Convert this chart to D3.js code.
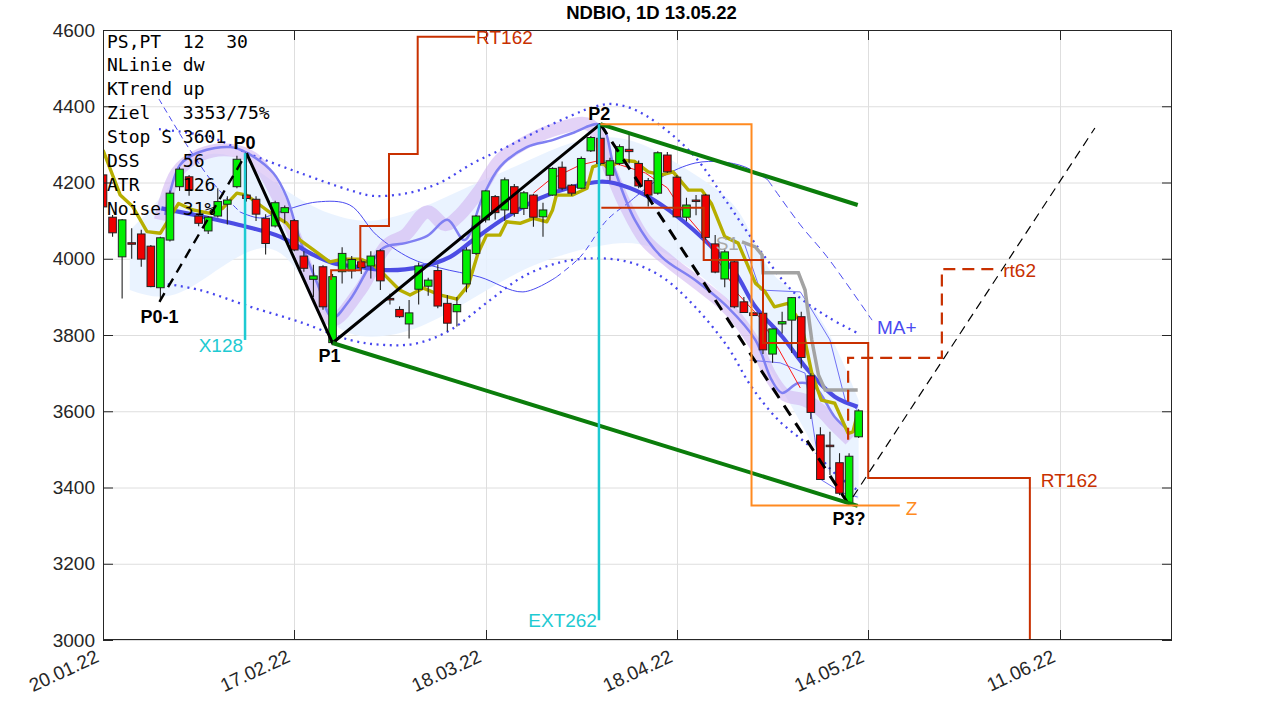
<!DOCTYPE html>
<html><head><meta charset="utf-8">
<script src="https://cdn.jsdelivr.net/npm/d3@7"></script>
<style>body{margin:0;background:#fff}svg{display:block}</style>
</head><body><svg id="c" width="1276" height="709"></svg>
<script>
// ---------- DATA ----------
const title = "NDBIO, 1D 13.05.22";
const open  = [4220,4109,4005,4042,4065,4033,3924,4049,4189,4215,4112,4073,4112,4143,4189,4167,4156,4106,4086,4121,
               4100,4007,3946,3979,3780,3966,3968,3992,3981,4021,3896,3867,3829,3920,3928,3969,3883,3861,3934,4014,
               4102,4163,4128,4189,4132,4167,4110,4167,4240,4193,4185,4283,4316,4219,4250,4287,4250,4205,4172,4272,
               4214,4109,4154,4167,4039,3947,3992,3887,3858,3857,3750,3829,3839,3848,3693,3538,3511,3465,3360,3533];
const high  = [4264,4115,4104,4080,4076,4036,4058,4179,4240,4220,4116,4112,4185,4164,4270,4277,4164,4117,4152,4140,
               4104,4020,3984,3983,3960,4030,4007,3998,4020,4025,3908,3875,3892,3990,3950,3985,3905,3900,4030,4115,
               4180,4167,4213,4196,4178,4170,4147,4240,4255,4196,4268,4322,4355,4265,4300,4330,4258,4212,4282,4280,
               4220,4160,4167,4170,4062,4025,3995,3900,3860,3860,3816,3861,3900,3861,3700,3558,3546,3490,3490,3605];
const low   = [4128,4058,3896,4000,3979,3925,3887,4045,4178,4165,4085,4065,4108,4090,4185,4150,4099,4011,4082,4094,
               4020,3966,3900,3866,3776,3935,3948,3960,3948,3918,3880,3845,3791,3880,3903,3870,3810,3822,3912,4010,
               4095,4103,4100,4110,4115,4084,4058,4165,4180,4165,4183,4280,4245,4205,4246,4250,4185,4137,4168,4225,
               4108,4098,4114,4050,3962,3925,3870,3858,3850,3750,3727,3804,3753,3713,3580,3421,3433,3380,3353,3530];
const close = [4136,4068,4102,4040,3999,3927,4055,4172,4235,4180,4093,4109,4150,4154,4261,4158,4117,4040,4147,4134,
               4023,3975,3955,3874,3953,4014,3998,3977,4007,3942,3892,3848,3858,3981,3944,3876,3831,3880,4023,4112,
               4178,4121,4207,4119,4173,4109,4128,4237,4185,4172,4263,4318,4250,4257,4294,4281,4191,4167,4278,4228,
               4110,4141,4152,4056,3965,4018,3874,3859,3851,3761,3816,3835,3898,3741,3597,3421,3510,3385,3482,3601];

const xTickIdx    = [0,20,40,60,80,100];
const xTickLabels = ["20.01.22","17.02.22","18.03.22","18.04.22","14.05.22","11.06.22"];
const yTicks      = [3000,3200,3400,3600,3800,4000,4200,4400,4600];

const infoLines = ["PS,PT  12  30","NLinie dw","KTrend up","Ziel   3353/75%","Stop S 3601","DSS    56","ATR    126","Noise  31%"];

// indicator lines as [barIndex, price]
const maThick = [[6.1,4132],[10.1,4112],[15,4084],[18.5,4058],[22,4010],[24,3989],[26.9,3978],[30,3970],[33.1,3978],
  [36.3,4005],[38.7,4049],[42.2,4110],[45.7,4159],[49.1,4189],[52,4202],[53.5,4198],[56.7,4167],[60.1,4110],
  [63.6,4032],[66.1,3963],[68.2,3874],[71,3796],[73.7,3708],[76.5,3638],[78.9,3612]];
const olive = [[0,4285],[1.8,4167],[3.1,4137],[4.6,4071],[6,4067],[7.9,4145],[9.4,4128],[11.2,4119],[12.5,4132],
  [14,4172],[15,4167],[16.4,4141],[17.8,4115],[19.2,4093],[20.6,4049],[22,4023],[23.7,3992],[25.1,3999],[26.9,3999],
  [28.1,3988],[29.3,3961],[31,3918],[32.1,3905],[33.5,3923],[35.2,3905],[37,3894],[38.2,3931],[39.2,4014],[40.1,4062],
  [41.5,4062],[42.2,4097],[43.6,4093],[45,4106],[46.4,4097],[47,4128],[47.4,4167],[49.1,4167],[50.6,4185],[51.2,4241],
  [52.3,4250],[52.8,4237],[54.2,4259],[55.6,4255],[57,4228],[58.4,4220],[59.6,4228],[61.2,4180],[62.6,4180],[63.6,4145],
  [65,4058],[66.4,4041],[68.2,3936],[69.2,3914],[70.2,3874],[71.6,3883],[73,3831],[74.1,3700],[75.1,3629],[76.5,3621],
  [77.9,3542],[78.4,3546],[78.9,3595]];
const purpleBand = [[6,4102],[7.7,4225],[10.1,4272],[13.3,4285],[15.9,4259],[18.2,4167],[20.6,4023],[22.5,3892],[24,3839],
  [26.9,3918],[29.7,4036],[31.6,4062],[33.9,4123],[35.8,4089],[37.3,4115],[39.4,4180],[41.5,4259],[44.6,4311],[47.8,4343],
  [50.9,4351],[53,4233],[54.6,4141],[56.7,4049],[59.3,3991],[62.4,3931],[65.5,3866],[68.2,3774],[69.9,3687],[71.3,3643],
  [73.4,3629],[75,3603],[76.5,3564],[78.1,3525]];
const maMedium = [[6.5,4115],[8.05,4246],[10.1,4280],[13.3,4293],[15.1,4277],[17.8,4225],[19.2,4162],[20.6,4049],[22.4,3936],
  [24,3845],[25.8,3892],[29.3,4028],[31.6,4041],[33.9,4060],[36,4102],[37.8,4049],[39.7,4162],[41.5,4241],[44.3,4293],
  [47,4311],[49.1,4330],[52,4351],[53.5,4233],[55.6,4102],[58.4,4005],[61.9,3944],[65.3,3873],[68.2,3787],[69.9,3682],
  [71,3648],[72.7,3674],[74.4,3664],[76.5,3585],[77.9,3551]];
const dotUpper = [[5.85,4340],[11.2,4319],[15.1,4277],[20.6,4225],[25.8,4180],[28.2,4165],[31.8,4172],[35.2,4199],[38.7,4251],
  [42.2,4293],[45.7,4338],[49.1,4377],[50.9,4395],[53,4406],[55.4,4393],[58.2,4351],[61.9,4267],[65.3,4146],[68.9,4015],
  [72.3,3910],[75.8,3847],[78.9,3805]];
const dotLower = [[6.1,3936],[10.1,3918],[15.4,3874],[20.6,3834],[25.8,3787],[29.3,3774],[32.8,3778],[36.3,3813],[40.5,3892],
  [43.9,3953],[47.4,3988],[50.9,4001],[54.9,3992],[58.4,3953],[61.9,3874],[65.3,3769],[67.8,3664],[70.6,3577],[74.1,3503],
  [76.5,3437],[78.9,3393]];
const bandUpper = [[2.8,4075],[6,4154],[9.1,4272],[13.3,4285],[17.5,4207],[20.6,4154],[23.7,4115],[27.9,4089],[33.1,4128],
  [38.4,4193],[43.6,4246],[47.8,4298],[52,4325],[56.1,4311],[60.3,4246],[64.5,4180],[67.1,4115],[69.7,3944],[72.9,3918],
  [76,3813],[79,3629]];
const bandLower = [[2.8,3918],[6,3892],[9.1,3918],[13.3,3997],[17.5,4049],[20.6,3970],[23.7,3813],[27.9,3787],[33.1,3813],
  [38.4,3892],[43.6,3970],[47.8,4010],[52,4036],[56.1,4049],[60.3,3997],[64.5,3918],[67.1,3839],[69.7,3708],[72.9,3577],
  [76,3420],[79,3367]];
const thinLeftDashed = [[5.85,4419],[9.1,4285],[11.7,4193],[14.3,4123]];
const thinSolid = [[14.3,4123],[16.4,4107],[18.5,4123],[22.4,4149],[25.8,4141],[28.6,4062],[32.1,4002],[35.2,3976],
  [39.4,3952],[43.9,3913],[47.4,3952]];
const thinDashedA = [[47.4,3952],[49.9,4005],[52.7,4102],[54.9,4146]];
const thinSolidB  = [[54.9,4146],[58.4,4214],[61.9,4251],[64.7,4254],[67.1,4241],[69.5,4207]];
const thinDashedC = [[69.5,4207],[72.9,4089],[75.7,4005],[80.4,3839]];
const shortUpper = [[67.1,4036],[68.7,3918],[72.9,3913],[74.1,3866],[76,3787],[77.6,3629],[78.9,3603]];
const shortLower = [[67.6,3734],[70.8,3727],[73.4,3700],[74.4,3532],[75.1,3420],[77.3,3386],[78.9,3375]];
const redThin = [[45,4172],[46.7,4207],[49.9,4246],[51.6,4256],[54.1,4246],[56.7,4225],[59,4186],[60.5,4128],[62.9,4057],
  [66.3,3910],[68.7,3845],[70.5,3769],[72.9,3661]];
const grayStop = [[66.8,4044],[68.2,4031],[68.9,4010],[69,3963],[72.7,3963],[73.4,3918],[74.1,3787],[74.8,3695],[75.5,3656],[78.9,3656]];

// pattern points
const patP01 = [5.9,3887], patP0 = [15,4277], patP1 = [24,3779], patP2 = [52,4353], patP3 = [78,3354];
const greenLower = [[24,3779],[78.9,3352]];
const greenUpper = [[52,4353],[78.9,4141]];
const rtUpper = [[23.85,3944],[23.85,3970],[26.9,3970],[26.9,4086],[29.9,4086],[29.9,4275],[32.9,4275],[32.9,4582],[38.9,4582]];
const rtLower = [[52.1,4134],[62.8,4134],[62.8,3997],[69,3997],[69,3779],[80,3779],[80,3425],[96.9,3425],[96.9,3000]];
const rtDashed = [[77.9,3525],[77.9,3740],[87.7,3740],[87.7,3973],[93.8,3973]];
const orangeBox = [[52,4353],[67.8,4353],[67.8,3353],[83.3,3353]];
const cyanX128 = [[14.85,4277],[14.85,3787]];
const cyanExt  = [[51.85,4353],[51.85,3052]];
const thinFwd  = [[78.4,3375],[103.7,4343]];

// ---------- CHART ----------
const svg = d3.select("#c");
const L=103, R=1172, T=30, B=640;
const x = d3.scaleLinear().domain([0,111.76]).range([L,R]);
const y = d3.scaleLinear().domain([3000,4600]).range([B,T]);
const line = d3.line().x(d=>x(d[0])).y(d=>y(d[1]));
const smooth = d3.line().x(d=>x(d[0])).y(d=>y(d[1])).curve(d3.curveCatmullRom.alpha(0.5));
const font = "'Liberation Sans', Arial, Helvetica, sans-serif";

svg.append("defs").append("clipPath").attr("id","pa").append("rect")
  .attr("x",L).attr("y",T).attr("width",R-L).attr("height",B-T);

// grid
const grid = svg.append("g").attr("stroke","#dedede").attr("stroke-width",1);
grid.selectAll("line.h").data(yTicks).join("line").attr("x1",L).attr("x2",R)
  .attr("y1",d=>y(d)+0.5).attr("y2",d=>y(d)+0.5);
grid.selectAll("line.v").data(xTickIdx).join("line").attr("y1",T).attr("y2",B)
  .attr("x1",d=>Math.round(x(d))+0.5).attr("x2",d=>Math.round(x(d))+0.5);

const g = svg.append("g").attr("clip-path","url(#pa)");

// light blue band
const area = d3.area().x(d=>x(d[0])).y1(d=>y(d[1])).y0((d,i)=>y(bandLower[i][1])).curve(d3.curveBasis);
g.append("path").datum(bandUpper).attr("d",area).attr("fill","#e6f1ff").attr("opacity",0.85);

// purple band
g.append("path").datum(purpleBand).attr("d",smooth).attr("fill","none")
  .attr("stroke","#cdaef0").attr("stroke-width",13).attr("stroke-opacity",0.55).attr("stroke-linejoin","round");

// dotted envelopes
[dotUpper,dotLower].forEach(d=>g.append("path").datum(d).attr("d",smooth).attr("fill","none")
  .attr("stroke","#4646ee").attr("stroke-width",2.3).attr("stroke-dasharray","2 4.6"));

// thin lines
g.append("path").datum(thinLeftDashed).attr("d",smooth).attr("fill","none").attr("stroke","#4a4af0").attr("stroke-width",1).attr("stroke-dasharray","6 4");
g.append("path").datum(thinSolid).attr("d",smooth).attr("fill","none").attr("stroke","#4a4af0").attr("stroke-width",1);
g.append("path").datum(thinDashedA).attr("d",smooth).attr("fill","none").attr("stroke","#4a4af0").attr("stroke-width",1).attr("stroke-dasharray","6 4");
g.append("path").datum(thinSolidB).attr("d",smooth).attr("fill","none").attr("stroke","#4a4af0").attr("stroke-width",1);
g.append("path").datum(thinDashedC).attr("d",smooth).attr("fill","none").attr("stroke","#4a4af0").attr("stroke-width",1).attr("stroke-dasharray","8 5");
[shortUpper,shortLower].forEach(d=>g.append("path").datum(d).attr("d",line).attr("fill","none")
  .attr("stroke","#7070f5").attr("stroke-width",1));

// medium MA
g.append("path").datum(maMedium).attr("d",smooth).attr("fill","none").attr("stroke","#8080f2").attr("stroke-width",2.5);
// thick MA
g.append("path").datum(maThick).attr("d",smooth).attr("fill","none").attr("stroke","#4c4ce4").attr("stroke-width",4.2);
// red thin
g.append("path").datum(redThin).attr("d",line).attr("fill","none").attr("stroke","#ff1a1a").attr("stroke-width",1);
// gray stop
g.append("path").datum(grayStop).attr("d",line).attr("fill","none").attr("stroke","#a3a3a3").attr("stroke-width",3.5);
// olive
g.append("path").datum(olive).attr("d",line).attr("fill","none").attr("stroke","#b6ae00").attr("stroke-width",3.4).attr("stroke-linejoin","round");

// candles
const cw = 7.6;
const cg = g.append("g");
const idx = d3.range(open.length);
cg.selectAll("line.w").data(idx).join("line")
  .attr("x1",i=>x(i)).attr("x2",i=>x(i)).attr("y1",i=>y(high[i])).attr("y2",i=>y(low[i]))
  .attr("stroke","#222").attr("stroke-width",1.1);
cg.selectAll("rect").data(idx).join("rect")
  .attr("x",i=>x(i)-cw/2).attr("width",cw)
  .attr("y",i=>y(Math.max(open[i],close[i])))
  .attr("height",i=>Math.max(1.5,Math.abs(y(open[i])-y(close[i]))))
  .attr("fill",i=>close[i]>=open[i]?"#00f000":"#f00000")
  .attr("stroke","#222").attr("stroke-width",1);

// pattern lines
g.append("path").datum([patP01,patP0]).attr("d",line).attr("stroke","#000").attr("stroke-width",2.4).attr("stroke-dasharray","10 7").attr("fill","none");
g.append("path").datum([patP0,patP1,patP2]).attr("d",line).attr("stroke","#000").attr("stroke-width",3).attr("fill","none");
g.append("path").datum([patP2,patP3]).attr("d",line).attr("stroke","#000").attr("stroke-width",3).attr("stroke-dasharray","12 9").attr("fill","none");
g.append("path").datum(thinFwd).attr("d",line).attr("stroke","#000").attr("stroke-width",1.2).attr("stroke-dasharray","9 6").attr("fill","none");
[greenLower,greenUpper].forEach(d=>g.append("path").datum(d).attr("d",line).attr("stroke","#0b7d0b").attr("stroke-width",4).attr("fill","none"));
g.append("path").datum(orangeBox).attr("d",line).attr("stroke","#ff8a20").attr("stroke-width",2).attr("fill","none");
[rtUpper,rtLower].forEach(d=>g.append("path").datum(d).attr("d",line).attr("stroke","#c83000").attr("stroke-width",2).attr("fill","none"));
g.append("path").datum(rtDashed).attr("d",line).attr("stroke","#c83000").attr("stroke-width",2.2).attr("stroke-dasharray","12 7").attr("fill","none");
[cyanX128,cyanExt].forEach(d=>g.append("path").datum(d).attr("d",line).attr("stroke","#1ecad2").attr("stroke-width",2.5).attr("fill","none"));

// axes frame
const ax = svg.append("g").attr("stroke","#262626").attr("stroke-width",1).attr("fill","none");
ax.append("rect").attr("x",L+0.5).attr("y",T+0.5).attr("width",R-L-1).attr("height",B-T-1);
const tl=10;
ax.selectAll("line.yl").data(yTicks).join("line").attr("x1",L).attr("x2",L+tl).attr("y1",d=>y(d)+0.5).attr("y2",d=>y(d)+0.5);
ax.selectAll("line.yr").data(yTicks).join("line").attr("x1",R-tl).attr("x2",R).attr("y1",d=>y(d)+0.5).attr("y2",d=>y(d)+0.5);
ax.selectAll("line.xb").data(xTickIdx).join("line").attr("y1",B).attr("y2",B-tl).attr("x1",d=>Math.round(x(d))+0.5).attr("x2",d=>Math.round(x(d))+0.5);
ax.selectAll("line.xt").data(xTickIdx).join("line").attr("y1",T).attr("y2",T+tl).attr("x1",d=>Math.round(x(d))+0.5).attr("x2",d=>Math.round(x(d))+0.5);

// tick labels
svg.selectAll("text.yt").data(yTicks).join("text").attr("x",L-8).attr("y",d=>y(d)).attr("dy","0.35em")
  .attr("text-anchor","end").attr("font-family",font).attr("font-size",19).attr("fill","#262626").text(d=>d);
svg.selectAll("text.xt").data(xTickIdx).join("text")
  .attr("transform",(d)=>`translate(${x(d)-3},${B+21}) rotate(-25)`)
  .attr("text-anchor","end").attr("font-family",font).attr("font-size",19).attr("fill","#262626")
  .text((d,i)=>xTickLabels[i]);

// title
svg.append("text").attr("x",(L+R)/2+14).attr("y",19).attr("text-anchor","middle").attr("font-family",font)
  .attr("font-weight","bold").attr("font-size",18.5).attr("fill","#000").text(title);

// info text
svg.append("g").selectAll("text").data(infoLines).join("text").attr("x",107).attr("y",(d,i)=>47.5+i*23.93)
  .attr("font-family","'DejaVu Sans Mono', monospace").attr("font-size",18).attr("fill","#000")
  .attr("xml:space","preserve").style("white-space","pre").text(d=>d);

// annotations
function lab(pt,txt,dx,dy,opt){
  return svg.append("text").attr("x",x(pt[0])+dx).attr("y",y(pt[1])+dy).attr("font-family",font)
    .attr("font-size",opt.size||19).attr("fill",opt.color||"#000").attr("text-anchor",opt.anchor||"start")
    .attr("font-weight",opt.bold?"bold":"normal").text(txt);
}
const B18={bold:true,size:18,anchor:"middle"};
lab(patP01,"P0-1",0,21,B18);
lab(patP0,"P0",-2,-4,B18);
lab(patP1,"P1",-3,19,B18);
lab(patP2,"P2",-1,-4,B18);
lab(patP3,"P3?",0,20,B18);
lab(cyanX128[1],"X128",-2,12,{color:"#1ecad2",anchor:"end"});
lab(cyanExt[1],"EXT262",-2,7,{color:"#1ecad2",anchor:"end"});
lab(rtUpper[rtUpper.length-1],"RT162",1,7,{color:"#c83000"});
lab(rtLower[7],"RT162",11,9,{color:"#c83000"});
lab(rtDashed[rtDashed.length-1],"rt62",3,8,{color:"#c83000"});
lab(orangeBox[3],"Z",6,10,{color:"#ff8a20"});
lab(grayStop[0],"S1",-3,8,{color:"#a8a8a8",anchor:"end"});
lab(thinDashedC[thinDashedC.length-1],"MA+",5,14,{color:"#4a4af0"});
</script></body></html>
